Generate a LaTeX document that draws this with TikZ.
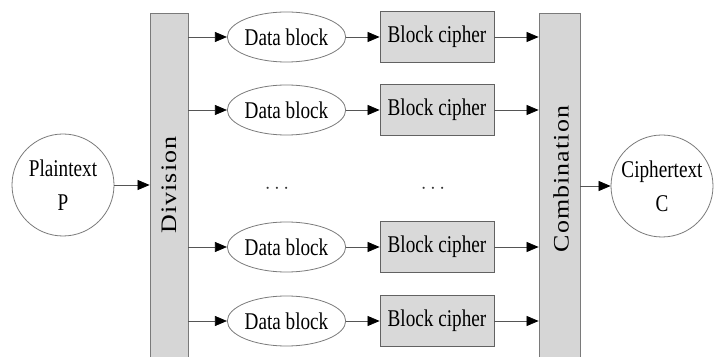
\documentclass[tikz,border=0pt]{standalone}
\usepackage{fontspec}
\setmainfont{Liberation Serif}
\newfontfamily\cnd{Liberation Serif}[FakeStretch=0.8]
\newfontfamily\spc{Liberation Serif}[LetterSpace=4]
\usetikzlibrary{shapes.geometric,arrows.meta}
\definecolor{barfill}{HTML}{D6D6D6}
\definecolor{boxfill}{HTML}{D9D9D9}
\definecolor{edge}{HTML}{7A7A7A}
\definecolor{lin}{HTML}{555555}
\tikzset{
  txt/.style={font=\cnd\fontsize{24}{34}\selectfont, text=black},
  bar/.style={draw=edge, fill=barfill, line width=0.8pt, inner sep=0pt},
  datablk/.style={ellipse, draw=edge, line width=0.8pt, minimum width=113pt, minimum height=50pt, inner sep=0pt, txt},
  cipher/.style={rectangle, draw=edge!80!black, fill=boxfill, line width=0.8pt, minimum width=114pt, minimum height=51pt, inner sep=0pt, txt},
  endcircle/.style={circle, draw=edge, line width=0.8pt, minimum size=102pt, inner sep=0pt, align=center, txt},
  arr/.style={draw=lin, line width=0.7pt, -{Triangle[length=12pt,width=10pt,color=black]}},
  bartxt/.style={font=\spc\fontsize{26}{30}\selectfont, text=black, rotate=90, yscale=0.85, transform shape},
  dotstyle/.style={font=\fontsize{20}{24}\selectfont, text=black!80}
}
\begin{document}
\begin{tikzpicture}[x=1pt,y=1pt]
\useasboundingbox (0,0) rectangle (714,356);
% bars
\node[bar, minimum width=38pt, minimum height=345pt] (div) at (169,170.5) {};
\node[bar, minimum width=41pt, minimum height=345pt] (comb) at (559.5,170.5) {};
\node[bartxt] (divt) at (169,171) {Division};
\node[bartxt] (combt) at (561,177) {Combination};
% end circles
\node[endcircle] (pt) at (63,171) {Plaintext\\P};
\node[endcircle] (ct) at (662,170) {Ciphertext\\C};
% rows
\foreach \i/\y in {1/319,2/246,3/109,4/35}{
  \node[datablk] (d\i) at (286.5,\y) {Data block};
  \node[cipher] (b\i) at (437,\y) {Block cipher};
  \draw[arr] (div.east |- d\i) -- (d\i.west);
  \draw[arr] (d\i.east) -- (b\i.west);
  \draw[arr] (b\i.east) -- (comb.west |- b\i);
}
\node[dotstyle] (dots1) at (277,167) {$\cdots$};
\node[dotstyle] (dots2) at (433,167) {$\cdots$};
\draw[arr] (pt.east) -- (div.west |- pt);
\draw[arr] (comb.east |- ct) -- (ct.west);
\end{tikzpicture}
\end{document}
